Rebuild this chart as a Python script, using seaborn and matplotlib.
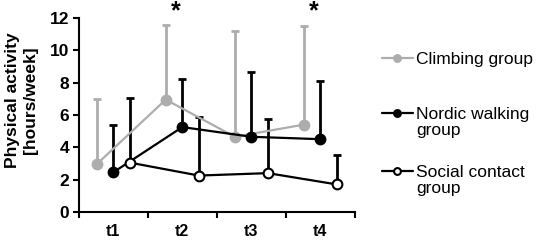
import numpy as np
import pandas as pd
import matplotlib
matplotlib.use("Agg")
import matplotlib.pyplot as plt
from matplotlib.lines import Line2D
import seaborn as sns

timepoints = ["t1", "t2", "t3", "t4"]
groups = ["Climbing group", "Nordic walking\ngroup", "Social contact\ngroup"]
climbing_mean = [2.95, 6.95, 4.65, 5.4]
climbing_sd = [4.05, 4.6, 6.55, 6.1]
nordic_mean = [2.45, 5.25, 4.65, 4.5]
nordic_sd = [2.95, 2.95, 4.0, 3.6]
social_mean = [3.05, 2.25, 2.4, 1.7]
social_sd = [4.0, 3.6, 3.35, 1.8]
significant = ["t2", "t4"]

sns.set_theme(style="white")
plt.rcParams['font.family'] = ['Liberation Sans', 'DejaVu Sans']
plt.rcParams['text.color'] = 'black'
plt.rcParams['xtick.color'] = 'black'
plt.rcParams['ytick.color'] = 'black'
plt.rcParams['axes.labelcolor'] = 'black'

fig = plt.figure(figsize=(5.36, 2.4), dpi=100)
ax = fig.add_axes([0.147, 0.117, 0.515, 0.808])

gray = "#ADADAD"
series = [
    (groups[0], climbing_mean, climbing_sd, -0.24, gray, gray),
    (groups[1], nordic_mean, nordic_sd, 0.0, "black", "black"),
    (groups[2], social_mean, social_sd, 0.24, "black", "white"),
]
xbase = np.arange(len(timepoints))
handles = []
for name, mean, sd, off, col, face in series:
    x = xbase + off
    ax.errorbar(x, mean, yerr=[np.zeros(len(sd)), sd], fmt="none",
                ecolor=col, elinewidth=2, capsize=3, capthick=2, zorder=1)
    df = pd.DataFrame({"x": x, "y": mean})
    sns.lineplot(data=df, x="x", y="y", ax=ax, color=col, lw=1.6,
                 marker="o", markersize=7, markerfacecolor=face,
                 markeredgecolor=col, markeredgewidth=1.5, zorder=3,
                 label=name, legend=False)
    handles.append(ax.lines[-1])

for t in significant:
    i = timepoints.index(t)
    ax.text(i - 0.1, 12.4, "*", ha="center", va="center", fontsize=18,
            fontweight="bold", clip_on=False)

ax.set_xlim(-0.5, 3.5)
ax.set_ylim(0, 12)
ax.set_yticks(range(0, 13, 2))
ax.set_xticks(xbase)
ax.set_xticklabels(timepoints)
ax.set_xticks(np.arange(-0.5, 4.0, 1.0), minor=True)
ax.tick_params(axis="x", which="major", length=0, pad=9)
ax.tick_params(axis="x", which="minor", length=4, width=1.5, direction="out", color="black", bottom=True)
ax.tick_params(axis="y", length=4, width=1.5, direction="out", color="black", left=True, pad=3)
for lab in ax.get_xticklabels():
    lab.set_fontweight("bold")
    lab.set_fontsize(11.5)
for lab in ax.get_yticklabels():
    lab.set_fontweight("bold")
    lab.set_fontsize(12.5)
ax.set_xlabel("")
ax.set_ylabel("Physical activity\n[hours/week]", fontsize=12.5, fontweight="bold")
ax.yaxis.set_label_coords(-0.149, 0.577)
for s in ["top", "right"]:
    ax.spines[s].set_visible(False)
for s in ["left", "bottom"]:
    ax.spines[s].set_color("black")
    ax.spines[s].set_linewidth(1.5)

# one legend block per group; continuation lines get a blank handle so the
# symbol sits beside the first line, as in the original
anchors_y = [0.85, 0.621, 0.379]
for h, lab, ay in zip(handles, groups, anchors_y):
    lines = lab.split("\n")
    hs = [h] + [Line2D([], [], color="none", marker="none") for _ in lines[1:]]
    fig.legend(handles=hs, labels=lines, loc="upper left",
               bbox_to_anchor=(0.683, ay), frameon=False, fontsize=12.5,
               handlelength=1.8, handletextpad=0.2, labelspacing=0.05,
               markerscale=0.7)

fig.savefig("out.png", dpi=100)
